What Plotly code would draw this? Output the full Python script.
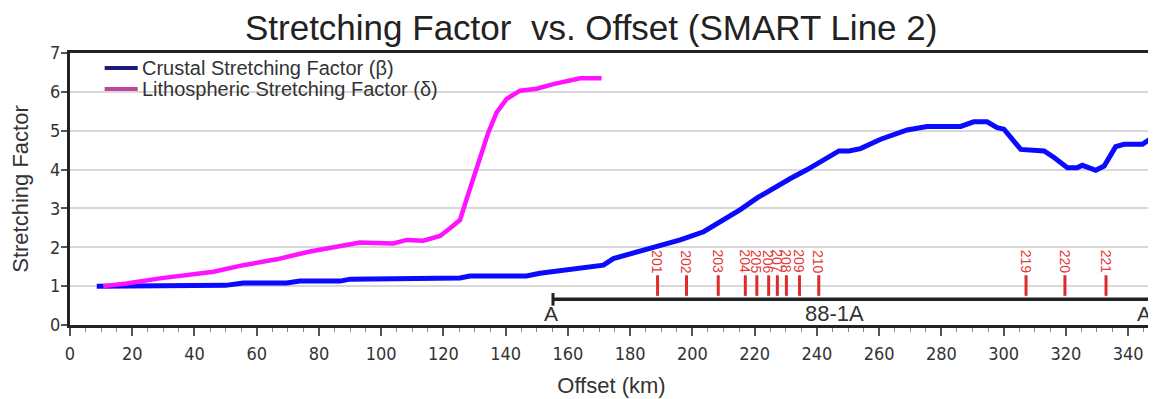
import plotly.graph_objects as go

# ---- data ----
crustal_x = [8.6, 20, 30, 40, 50, 55.7, 69.6, 73.9, 86.8, 90, 103.9, 105, 125.3, 128.5, 146.7, 151,
             159.6, 171.4, 174.6, 181, 186.4, 188.6, 196.1, 203.6, 211.2, 215.4, 220.8, 226.1, 231.5,
             236.9, 242.2, 247.1, 250.3, 254, 260.5, 269, 275.4, 286.2, 290.4, 294.7, 297.9, 300.1,
             305.5, 313, 316.2, 320.5, 323.7, 325.3, 329.6, 332.3, 336, 338.7, 344.6, 347.3, 349.2]
crustal_y = [1.0, 1.01, 1.01, 1.02, 1.02, 1.08, 1.08, 1.13, 1.13, 1.18, 1.18, 1.21, 1.21, 1.26, 1.26, 1.33,
             1.43, 1.54, 1.71, 1.86, 1.97, 2.02, 2.19, 2.40, 2.75, 2.97, 3.27, 3.53, 3.77,
             4.00, 4.26, 4.48, 4.48, 4.54, 4.78, 5.02, 5.11, 5.11, 5.23, 5.23, 5.08, 5.04,
             4.52, 4.48, 4.31, 4.05, 4.05, 4.11, 3.98, 4.09, 4.59, 4.65, 4.65, 4.80, 5.04]

litho_x = [10.7, 18.2, 28.9, 39.6, 46.1, 55.7, 66.4, 77.1, 87.8, 93.2, 103.9, 108.2, 113.5, 118.9,
           122.1, 125.3, 127.4, 129.1, 131.7, 134.4, 137.1, 140.3, 144.6, 150, 155.3, 163.9, 170.8]
litho_y = [1.0, 1.07, 1.20, 1.31, 1.37, 1.54, 1.69, 1.89, 2.03, 2.12, 2.10, 2.19, 2.17, 2.29,
           2.49, 2.70, 3.23, 3.66, 4.26, 4.95, 5.47, 5.82, 6.03, 6.08, 6.20, 6.35, 6.35]

legend_names = ["Crustal Stretching Factor (β)", "Lithospheric Stretching Factor (δ)"]
legend_colors = ["#1c1c78", "#c2439a"]

station_labels = ["201", "202", "203", "204", "205", "206", "207", "208", "209", "210", "219", "220", "221"]
station_x = [188.8, 198.1, 208.3, 217.0, 220.7, 224.5, 227.3, 230.2, 234.4, 240.6, 307.2, 319.7, 332.9]
station_bar = [0.75, 1.28]
station_label_y = 1.63

profile_name = "88-1A"
profile_x = [155.2, 348.0]
profile_y = 0.66
profile_ends = ["A", "A'"]
profile_end_x = [154.6, 345.6]
profile_label_x = 245.8
profile_text_y = 0.29

x_ticks = list(range(0, 341, 20))
y_ticks = list(range(0, 8))

# ---- figure ----
fig = go.Figure()

fig.add_trace(go.Scatter(x=crustal_x, y=crustal_y, mode="lines", name=legend_names[0],
                         line=dict(color="#0a0aff", width=5), showlegend=False))
fig.add_trace(go.Scatter(x=litho_x, y=litho_y, mode="lines", name=legend_names[1],
                         line=dict(color="#ff12ff", width=4.5), showlegend=False))

# station bars
bx, by = [], []
for sx in station_x:
    bx += [sx, sx, None]
    by += [station_bar[0], station_bar[1], None]
fig.add_trace(go.Scatter(x=bx, y=by, mode="lines", line=dict(color="#e02a2a", width=3),
                         showlegend=False, hoverinfo="skip"))

# profile line
fig.add_trace(go.Scatter(x=profile_x, y=[profile_y, profile_y], mode="lines+markers",
                         line=dict(color="#222222", width=3.5),
                         marker=dict(symbol="line-ns", size=9, line=dict(color="#222222", width=3)),
                         showlegend=False, hoverinfo="skip"))

annotations = []
for lab, sx in zip(station_labels, station_x):
    annotations.append(dict(x=sx, y=station_label_y, text=lab, textangle=90, showarrow=False,
                            font=dict(family="Liberation Sans, Arial", size=14, color="#e03a3a")))
for lab, ex in zip(profile_ends, profile_end_x):
    annotations.append(dict(x=ex, y=profile_text_y, text=lab, showarrow=False,
                            font=dict(family="Liberation Sans, Arial", size=21, color="#333333")))
annotations.append(dict(x=profile_label_x, y=profile_text_y, text=profile_name, showarrow=False,
                        font=dict(family="Liberation Sans, Arial", size=22, color="#333333")))

# manual legend (line sample + label), positioned in paper coordinates
shapes = [dict(type="line", xref="paper", yref="paper", x0=1, x1=1, y0=0, y1=1,
               line=dict(color="#c8c8c8", width=1.5))]
leg_y = [0.945, 0.868]
for name, col, ly in zip(legend_names, legend_colors, leg_y):
    shapes.append(dict(type="line", xref="paper", yref="paper", x0=0.032, x1=0.0625, y0=ly, y1=ly,
                       line=dict(color=col, width=4)))
    annotations.append(dict(xref="paper", yref="paper", x=0.0645, y=ly, xanchor="left", yanchor="middle",
                            text=name, showarrow=False,
                            font=dict(family="Liberation Sans, Arial", size=20, color="#333333")))

fig.update_layout(
    width=1148, height=391,
    margin=dict(l=62, r=3, t=45, b=74),
    paper_bgcolor="white", plot_bgcolor="white",
    title=dict(text="Stretching Factor  vs. Offset (SMART Line 2)", x=0.508, xanchor="center",
               y=0.98, yanchor="top",
               font=dict(family="Liberation Sans, Arial", size=35, color="#222222")),
    showlegend=False,
    annotations=annotations,
    shapes=shapes,
)

tickfont = dict(family="Liberation Sans Narrow, DejaVu Sans Condensed, Arial Narrow", size=18, color="#333333")

fig.update_xaxes(range=[0, 348], tickvals=x_ticks, ticks="outside", ticklen=8, tickwidth=1.5,
                 tickcolor="#555555", tickfont=tickfont, ticklabelstandoff=2, automargin=False,
                 showline=True, linecolor="#222222", linewidth=3, mirror=True,
                 showgrid=False, zeroline=False,
                 minor=dict(dtick=5, tick0=0, ticks="outside", ticklen=4, tickwidth=1, tickcolor="#888888"),
                 title=dict(text="Offset (km)", standoff=16,
                            font=dict(family="Liberation Sans, Arial", size=22, color="#333333")))
fig.update_yaxes(range=[0, 7], tickvals=y_ticks, ticks="outside", ticklen=6, tickwidth=1.5,
                 tickcolor="#555555", tickfont=tickfont, ticklabelstandoff=-3, automargin=False,
                 showline=True, linecolor="#222222", linewidth=3,
                 showgrid=True, gridcolor="#d8d8d8", gridwidth=1.5, zeroline=False,
                 title=dict(text="Stretching Factor", standoff=19,
                            font=dict(family="Liberation Sans, Arial", size=22, color="#333333")))

fig.write_html("out.html")
